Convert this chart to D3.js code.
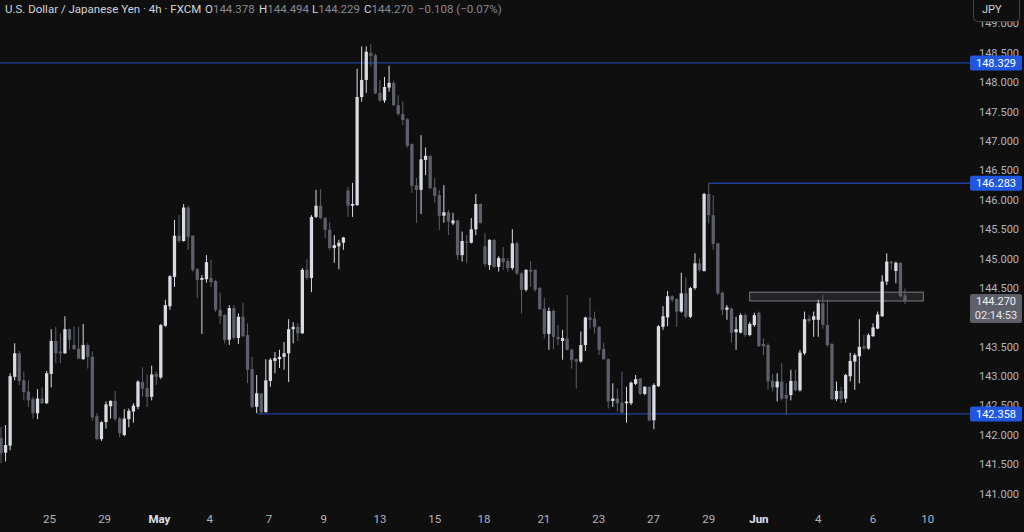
<!DOCTYPE html>
<html><head><meta charset="utf-8">
<script src="https://cdn.jsdelivr.net/npm/d3@7"></script>
<style>html,body{margin:0;padding:0;background:#0f0f0f;overflow:hidden}</style>
</head><body><svg id="c" width="1024" height="532"></svg>
<script>
// ---- data (USD/JPY 4h, FXCM) ----
const open = [
141.95,141.70,141.82,142.99,143.39,142.93,142.74,142.61,142.37,142.62,
142.54,143.04,143.60,143.42,143.39,143.80,143.53,143.47,143.29,143.53,
143.33,142.32,141.93,142.22,142.49,142.58,142.28,142.00,142.27,142.40,
142.48,142.90,142.80,142.65,143.04,142.98,143.86,144.19,144.69,145.39,
145.30,145.87,145.39,144.82,144.64,144.65,144.67,144.62,144.13,144.04,
143.62,144.16,143.65,144.01,143.70,143.12,142.48,142.71,142.39,142.92,
143.26,143.29,143.33,143.39,143.80,143.84,143.73,144.81,144.67,145.71,
145.90,145.69,145.49,145.18,145.21,145.27,146.16,145.90,145.91,147.75,
148.04,148.50,148.46,147.82,147.69,147.91,147.99,147.61,147.46,147.37,
146.95,146.25,146.17,146.68,146.75,146.21,146.08,145.73,145.79,145.60,
145.65,145.06,145.29,145.27,145.50,145.93,145.21,144.89,145.32,144.86,
145.01,144.96,144.84,145.26,144.75,144.47,144.81,144.81,144.50,144.15,
143.72,144.11,143.67,143.60,143.64,143.45,143.29,143.25,143.53,144.00,
143.98,143.84,143.46,143.29,142.58,142.62,142.55,142.54,142.54,142.87,
142.96,142.70,142.82,142.25,142.83,143.84,144.00,144.36,144.31,144.10,
144.41,144.01,144.50,144.92,144.79,146.10,145.74,145.26,144.42,144.13,
144.15,143.75,143.74,144.04,143.70,143.87,144.08,143.55,143.53,142.92,
142.81,142.91,142.68,142.68,142.92,142.76,143.39,143.98,143.96,143.96,
144.24,143.87,143.55,142.61,142.75,142.62,143.00,143.25,143.34,143.51,
143.47,143.68,143.81,144.02,144.61,144.95,144.79,144.93,144.378];
const high = [
142.14,142.17,143.05,143.56,143.43,143.08,142.93,142.65,142.78,142.81,
143.09,143.80,143.84,143.73,144.02,143.81,143.85,143.84,143.89,143.56,
143.42,142.37,142.23,142.57,142.59,142.75,142.31,142.44,142.45,142.54,
142.93,143.15,143.03,143.18,143.08,143.89,144.30,144.72,145.66,145.74,
145.93,145.90,145.40,144.84,144.72,145.06,144.98,144.64,144.42,144.06,
144.21,144.21,144.07,144.25,143.90,143.33,143.02,142.71,143.29,143.31,
143.41,143.45,143.58,143.97,143.92,143.90,144.84,144.99,145.74,146.17,
146.18,145.71,145.62,145.40,145.32,145.37,146.22,146.29,148.23,148.61,
148.61,148.65,148.49,148.04,148.09,148.28,148.03,147.78,147.67,147.39,
146.96,146.37,147.10,146.89,146.76,146.37,146.17,146.25,145.83,145.78,
145.66,145.46,145.40,145.69,146.10,145.94,145.44,145.33,145.33,145.04,
145.20,145.01,145.50,145.29,144.78,144.82,144.96,144.82,144.52,144.33,
144.17,144.14,143.87,143.79,144.38,143.47,143.30,143.76,144.01,144.33,
144.10,143.85,143.57,143.30,142.88,142.79,143.08,142.82,142.91,143.02,
142.97,142.83,142.83,142.88,143.87,144.19,144.45,144.38,144.33,144.76,
144.68,144.52,145.09,145.01,146.12,146.283,146.08,145.27,144.44,144.21,
144.17,144.01,144.07,144.07,143.92,144.08,144.10,143.64,143.56,143.04,
143.05,143.22,142.88,143.11,143.11,143.45,144.10,144.04,144.10,144.30,
144.38,144.30,143.56,142.91,142.82,143.04,143.40,143.39,143.97,143.70,
143.73,143.90,144.10,144.72,145.09,144.96,144.95,144.93,144.494];
const low = [
141.52,141.55,141.74,142.93,142.85,142.59,142.48,142.28,142.27,142.53,
142.53,142.81,143.22,143.22,143.38,143.45,143.45,143.29,143.28,143.13,
142.25,141.91,141.90,142.11,142.28,142.24,141.96,141.98,142.13,142.21,
142.44,142.65,142.48,142.59,142.85,142.95,143.84,144.13,144.52,145.27,
145.29,145.15,144.78,144.33,143.72,144.59,144.52,144.09,143.89,143.56,
143.53,143.62,143.55,143.67,142.88,142.46,142.37,142.358,142.38,142.82,
143.05,143.14,143.11,142.90,143.56,143.60,143.72,144.64,144.43,145.69,
145.67,145.35,145.15,144.93,144.82,145.15,145.71,145.71,145.90,147.67,
147.82,148.27,147.80,147.67,147.65,147.84,147.60,147.43,147.27,146.89,
146.12,145.61,145.76,146.42,146.18,145.95,145.49,145.61,145.40,145.57,
144.98,144.95,144.92,145.26,145.40,145.60,144.86,144.81,144.84,144.78,
144.81,144.78,144.81,144.72,144.07,144.44,144.52,144.44,144.13,143.64,
143.45,143.46,143.53,143.28,143.44,143.13,142.79,143.23,143.43,143.81,
143.73,143.36,143.28,142.45,142.48,142.40,142.37,142.21,142.51,142.85,
142.68,142.68,142.23,142.10,142.82,143.79,143.85,144.26,143.84,144.08,
143.98,143.99,144.47,144.77,144.78,145.60,145.15,144.38,144.04,143.96,
143.57,143.45,143.73,143.67,143.68,143.84,143.50,143.36,142.77,142.74,
142.57,142.59,142.35,142.59,142.75,142.74,143.36,143.90,143.67,143.67,
143.81,143.50,142.59,142.58,142.54,142.55,142.91,142.77,142.88,143.45,
143.45,143.67,143.80,144.01,144.55,144.81,144.58,144.34,144.229];
const close = [
141.69,141.83,143.00,143.39,142.92,142.73,142.59,142.37,142.62,142.54,
143.05,143.60,143.39,143.39,143.80,143.62,143.46,143.30,143.53,143.33,
142.30,141.93,142.22,142.52,142.58,142.27,142.03,142.28,142.41,142.50,
142.91,142.79,142.65,143.03,142.99,143.87,144.21,144.70,145.39,145.30,
145.87,145.37,144.81,144.64,144.67,144.94,144.60,144.13,144.02,143.62,
144.16,143.65,144.01,143.68,143.11,142.48,142.71,142.39,142.93,143.28,
143.31,143.33,143.39,143.80,143.84,143.73,144.81,144.67,145.71,145.90,
145.69,145.49,145.18,145.23,145.27,145.36,145.90,145.93,147.75,148.04,
148.52,148.45,147.81,147.69,147.92,147.99,147.61,147.46,147.36,146.92,
146.24,146.17,146.69,146.75,146.20,146.07,145.73,145.79,145.63,145.65,
145.06,145.30,145.27,145.50,145.93,145.61,144.91,145.32,144.86,145.01,
144.94,144.84,145.26,144.75,144.47,144.81,144.78,144.47,144.14,143.72,
144.11,143.67,143.63,143.65,143.45,143.28,143.25,143.53,144.00,143.96,
143.84,143.45,143.29,142.57,142.62,142.54,142.38,142.57,142.89,142.95,
142.70,142.82,142.25,142.85,143.85,144.02,144.36,144.30,144.10,144.41,
144.01,144.50,144.92,144.81,146.10,145.74,145.25,144.41,144.13,144.17,
143.74,143.80,144.04,143.70,143.89,144.04,143.51,143.51,142.91,142.81,
142.91,142.62,142.62,142.92,142.76,143.40,143.97,143.94,144.02,144.24,
143.87,143.53,142.61,142.75,142.61,143.02,143.26,143.36,143.50,143.47,
143.70,143.83,144.05,144.61,144.95,144.92,144.93,144.36,144.270];

const timeLabels = ["25","29","May","4","7","9","13","15","18","21","23","27","29","Jun","4","6","10"];
const timeTickIdx = [10.6,22.7,34.7,45.7,58.7,70.7,83,95,105.8,118.9,130.9,142.9,155,166,179,191,203];
const monthLabels = ["May","Jun"];
const priceTicks = [141,141.5,142,142.5,143,143.5,144,144.5,145,145.5,146,146.5,147,147.5,148,148.5,149];
const levelPrices = [148.329, 146.283, 142.358];
const levelStartIdx = [-1, 155, 56.3];
const zoneIdx = [164, 202];
const zonePrices = [144.43, 144.28];
const lastPrice = 144.270;
const countdown = "02:14:53";
const title = "U.S. Dollar / Japanese Yen · 4h · FXCM";
const ohlcKeys = ["O","H","L","C"];
const ohlcVals = ["144.378","144.494","144.229","144.270"];
const change = "−0.108 (−0.07%)";

// ---- layout ----
const W = 1024, H = 532, plotR = 970, plotB = 505;
const FONT = "Roboto, 'Liberation Sans', sans-serif";
const UP = "#d9dbe2", DOWN = "#5d606b";
const svg = d3.select("#c");
svg.append("rect").attr("width", W).attr("height", H).attr("fill", "#0f0f0f");

const n = close.length;
const x = d3.scaleLinear().domain([0, 198]).range([1, 905]);
const y = d3.scaleLinear().domain([141, 148]).range([493.8, 82.3]);

svg.append("clipPath").attr("id", "plot").append("rect")
  .attr("x", 0).attr("y", 0).attr("width", plotR).attr("height", plotB);
const plot = svg.append("g").attr("clip-path", "url(#plot)");

// horizontal levels
plot.selectAll("line.lvl").data(levelPrices).join("line").attr("class", "lvl")
  .attr("x1", (d, i) => Math.max(0, x(levelStartIdx[i]))).attr("x2", plotR)
  .attr("y1", d => y(d)).attr("y2", d => y(d))
  .attr("stroke", "#1f3f9e").attr("stroke-width", 1.3);

// zone rectangle
plot.append("rect")
  .attr("x", x(zoneIdx[0])).attr("width", x(zoneIdx[1]) - x(zoneIdx[0]))
  .attr("y", y(zonePrices[0])).attr("height", y(zonePrices[1]) - y(zonePrices[0]))
  .attr("fill", "rgba(120,123,134,0.18)").attr("stroke", "#7a7d86").attr("stroke-width", 1);

// candles
const idx = d3.range(n);
const col = i => close[i] >= open[i] ? UP : DOWN;
plot.selectAll("line.wick").data(idx).join("line").attr("class", "wick")
  .attr("x1", i => x(i)).attr("x2", i => x(i))
  .attr("y1", i => y(high[i])).attr("y2", i => y(low[i]))
  .attr("stroke", col).attr("stroke-width", 1);
const bw = 3.3;
plot.selectAll("rect.body").data(idx).join("rect").attr("class", "body")
  .attr("x", i => x(i) - bw / 2).attr("width", bw)
  .attr("y", i => y(Math.max(open[i], close[i])))
  .attr("height", i => Math.max(1, Math.abs(y(open[i]) - y(close[i]))))
  .attr("fill", col);

// price axis (labels fully hidden behind the last-price box are not drawn)
const ly = y(lastPrice);
const shownTicks = priceTicks.filter(d => !(y(d) > ly - 7.5 && y(d) < ly + 21.5));
svg.selectAll("text.pt").data(shownTicks).join("text").attr("class", "pt")
  .attr("x", 999).attr("y", d => y(d)).attr("dy", "0.35em")
  .attr("text-anchor", "middle").attr("font-family", FONT).attr("font-size", 11)
  .attr("fill", "#b2b5be").text(d => d3.format(".3f")(d));

// level labels
const lg = svg.selectAll("g.ll").data(levelPrices).join("g").attr("class", "ll");
lg.append("rect").attr("x", 970).attr("width", 52).attr("y", d => y(d) - 7.5).attr("height", 15)
  .attr("rx", 2).attr("fill", "#2157e0");
lg.append("text").attr("x", 996).attr("y", d => y(d)).attr("dy", "0.35em")
  .attr("text-anchor", "middle").attr("font-family", FONT).attr("font-size", 11)
  .attr("fill", "#ffffff").text(d => d3.format(".3f")(d));

// last price label
svg.append("rect").attr("x", 970).attr("width", 52).attr("y", ly - 7.5).attr("height", 29)
  .attr("rx", 2).attr("fill", "#5d606b");
svg.append("text").attr("x", 996).attr("y", ly).attr("dy", "0.35em").attr("text-anchor", "middle")
  .attr("font-family", FONT).attr("font-size", 11).attr("fill", "#f0f0f0")
  .text(d3.format(".3f")(lastPrice));
svg.append("text").attr("x", 996).attr("y", ly + 14).attr("dy", "0.35em").attr("text-anchor", "middle")
  .attr("font-family", FONT).attr("font-size", 11).attr("fill", "#e6e6e6").text(countdown);

// currency box
svg.append("rect").attr("x", 973.5).attr("y", -4).attr("width", 46).attr("height", 25.5).attr("rx", 4)
  .attr("fill", "#0f0f0f").attr("stroke", "#434651");
svg.append("text").attr("x", 982).attr("y", 12.5).attr("font-family", FONT).attr("font-size", 11)
  .attr("fill", "#d1d4dc").text("JPY");

// time axis
svg.selectAll("text.tt").data(timeLabels).join("text").attr("class", "tt")
  .attr("x", (d, i) => x(timeTickIdx[i])).attr("y", 519).attr("dy", "0.35em")
  .attr("text-anchor", "middle").attr("font-family", FONT).attr("font-size", 11.5)
  .attr("font-weight", d => monthLabels.includes(d) ? 700 : 400)
  .attr("fill", d => monthLabels.includes(d) ? "#e0e3eb" : "#b2b5be").text(d => d);

// header
const HF = 11.5;
svg.append("text").attr("x", 5).attr("y", 12.5).attr("font-family", FONT).attr("font-size", HF)
  .attr("fill", "#d1d4dc").text(title);
const hx = [205, 259, 312, 364];
ohlcKeys.forEach((k, i) => {
  const t = svg.append("text").attr("x", hx[i]).attr("y", 12.5).attr("font-family", FONT).attr("font-size", HF);
  t.append("tspan").attr("fill", "#d1d4dc").text(k);
  t.append("tspan").attr("fill", "#868993").text(ohlcVals[i]);
});
svg.append("text").attr("x", 418).attr("y", 12.5).attr("font-family", FONT).attr("font-size", HF)
  .attr("fill", "#868993").text(change);
</script></body></html>
